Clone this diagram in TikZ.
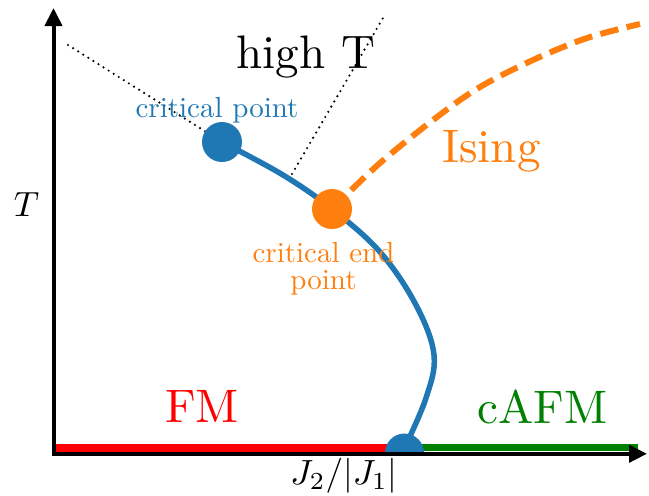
\documentclass[tikz,border=0pt]{standalone}
\usepackage{graphicx}
\usetikzlibrary{arrows.meta}
\definecolor{tabblue}{HTML}{1F77B4}
\definecolor{taborange}{HTML}{FF7F0E}
\definecolor{fmred}{HTML}{FF0000}
\definecolor{afmgreen}{HTML}{008000}
\newcommand\bigtxt[1]{\scalebox{4.7}{#1}}
\newcommand\smalltxt[1]{\scalebox{2.9}{#1}}
\newcommand\axtxt[1]{\scalebox{3.5}{#1}}
\tikzset{
  lbl/.style={font=\fontsize{10}{12}\selectfont, inner sep=0pt, anchor=base},
  axisline/.style={line width=4pt, -{Triangle[length=18pt,width=17pt]}},
  phaseline/.style={line width=7.5pt},
  dotline/.style={line width=2.4pt, line cap=round, dash pattern=on 0pt off 6pt},
  bluecurve/.style={line width=5.5pt, tabblue},
  isingline/.style={line width=6pt, taborange, dash pattern=on 18.5pt off 8.5pt},
  bigdot/.style={circle, inner sep=0pt, minimum size=40pt},
}
\begin{document}
\begin{tikzpicture}[x=1pt,y=-1pt]
\useasboundingbox (0,0) rectangle (649,496);
% coordinates
\coordinate (ytip) at (53.5,8);
\coordinate (xtip) at (647,453.8);
\coordinate (ybase) at (53.5,456);
\coordinate (xbase) at (52,453.8);
\coordinate (redL) at (53,448);
\coordinate (redR) at (392,448);
\coordinate (greenL) at (418,447.5);
\coordinate (greenR) at (638,447.5);
\coordinate (d1) at (68,45);
\coordinate (d2a) at (292,174);
\coordinate (d2b) at (383,18);
\coordinate (isingend) at (640,24);
\coordinate (cppos) at (222,142);
\coordinate (ceppos) at (332,209);
\coordinate (qcppos) at (404.5,453);
% phase lines on axis
\draw[phaseline, fmred] (redL) -- (redR);
\draw[phaseline, afmgreen] (greenL) -- (greenR);
% dotted lines
\draw[dotline] (d1) -- (cppos);
\draw[dotline] (d2a) -- (d2b);
% Ising dashed line
\draw[isingline] plot[smooth, tension=0.55] coordinates {(ceppos) (380,163) (437,117) (480,87) (533,60) (587,38) (isingend)};
% first order line
\draw[bluecurve] plot[smooth, tension=0.6] coordinates {(cppos) (283,175) (ceppos) (380,252) (416,305) (434,355) (426,398) (405,447)};
% points
\node[bigdot, fill=tabblue] (cp) at (cppos) {};
\node[bigdot, fill=taborange] (cep) at (ceppos) {};
\begin{scope}
\clip (0,0) rectangle (649,453);
\node[circle, inner sep=0pt, minimum size=39pt, fill=tabblue] (qcp) at (qcppos) {};
\end{scope}
% axes
\draw[axisline] (ybase) -- (ytip);
\draw[axisline] (xbase) -- (xtip);
% labels
\node[lbl] (hight) at (306,68) {\bigtxt{high T}};
\node[lbl, text=taborange] (ising) at (491.5,162) {\bigtxt{Ising}};
\node[lbl, text=fmred] (fm) at (202,422) {\bigtxt{FM}};
\node[lbl, text=afmgreen] (cafm) at (542.5,423) {\bigtxt{cAFM}};
\node[lbl, text=tabblue] (cplabel) at (217,117) {\smalltxt{critical point}};
\node[lbl, text=taborange] (ceplabel) at (323.5,262) {\smalltxt{\def\arraystretch{0.78}\begin{tabular}[t]{@{}c@{}}critical end\\point\end{tabular}}};
\node[lbl] (tlabel) at (26.5,216) {\axtxt{$T$}};
\node[lbl] (xlabel) at (344,484) {\axtxt{$J_2/|J_1|$}};
\end{tikzpicture}
\end{document}
